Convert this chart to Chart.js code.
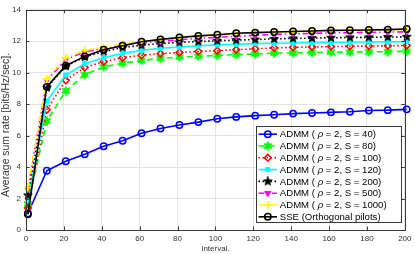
<!DOCTYPE html>
<html><head><meta charset="utf-8">
<script src="https://cdn.jsdelivr.net/npm/chart.js@4.4.1/dist/chart.umd.min.js"></script>
<style>html,body{margin:0;padding:0;background:#fff;overflow:hidden;}</style>
</head><body>
<canvas id="c" width="415" height="254" style="width:415px;height:254px;display:block"></canvas>
<script>
// ---------------- data ----------------
const interval = [1,11,21,31,41,51,61,71,81,91,101,111,121,131,141,151,161,171,181,191,201];
const xTicks = [0,20,40,60,80,100,120,140,160,180,200];
const yTicks = [0,2,4,6,8,10,12,14];
const admmS40   = [1.05,3.77,4.37,4.82,5.32,5.67,6.15,6.45,6.68,6.86,7.07,7.19,7.27,7.33,7.40,7.44,7.48,7.52,7.60,7.62,7.67];
const admmS80   = [1.65,6.93,8.84,9.87,10.37,10.60,10.78,10.90,11.00,11.04,11.10,11.15,11.19,11.24,11.26,11.28,11.30,11.31,11.33,11.34,11.36];
const admmS100  = [1.40,7.65,9.52,10.33,10.70,10.95,11.11,11.21,11.29,11.35,11.40,11.46,11.52,11.58,11.61,11.64,11.66,11.68,11.70,11.71,11.73];
const admmS120  = [1.87,8.20,9.85,10.57,10.95,11.23,11.42,11.56,11.63,11.71,11.77,11.81,11.85,11.87,11.89,11.91,11.93,11.94,11.95,11.96,11.97];
const admmS200  = [2.20,9.05,10.42,11.00,11.35,11.60,11.75,11.85,11.93,11.98,12.03,12.07,12.11,12.15,12.18,12.20,12.22,12.24,12.25,12.27,12.28];
const admmS500  = [2.60,9.52,10.84,11.32,11.55,11.77,11.90,12.00,12.10,12.18,12.25,12.32,12.38,12.44,12.47,12.50,12.53,12.55,12.57,12.58,12.60];
const admmS1000 = [2.70,9.60,10.95,11.42,11.62,11.82,11.97,12.10,12.22,12.32,12.40,12.49,12.54,12.58,12.61,12.64,12.68,12.69,12.71,12.73,12.76];
const sseOrth   = [1.00,9.10,10.45,11.04,11.46,11.72,11.97,12.12,12.24,12.34,12.41,12.51,12.55,12.59,12.62,12.65,12.69,12.70,12.72,12.74,12.78];
const seriesNames = ['S = 40','S = 80','S = 100','S = 120','S = 200','S = 500','S = 1000'];
const sseName = 'SSE (Orthogonal pilots)';
const xTitle = 'Interval.';
const yTitle = 'Average sum rate [bits/Hz/sec].';

// ---------------- marker images ----------------
function starImage(n, color, size, innerRatio) {
  const cv = document.createElement('canvas');
  cv.width = size; cv.height = size;
  const g = cv.getContext('2d');
  const c = size / 2, R = size / 2 - 0.5, r = R * innerRatio;
  g.beginPath();
  for (let i = 0; i < 2 * n; i++) {
    const a = -Math.PI / 2 + i * Math.PI / n;
    const rr = i % 2 ? r : R;
    g.lineTo(c + rr * Math.cos(a), c + rr * Math.sin(a));
  }
  g.closePath();
  g.fillStyle = color; g.fill();
  g.strokeStyle = color; g.lineWidth = 1; g.stroke();
  return cv;
}
const hexGreen = starImage(6, '#00ff00', 10, 0.5);
const pentBlack = starImage(5, '#000000', 10, 0.42);

const FONT = "'Liberation Sans', Arial, Helvetica, sans-serif";
const xy = arr => arr.map((v, i) => ({x: interval[i], y: v}));

const datasets = [
  {label: seriesNames[0], data: xy(admmS40), borderColor:'#0000ff', backgroundColor:'rgba(0,0,0,0)', borderWidth:1.6, borderDash:[], pointStyle:'circle', pointRadius:3.2, pointBorderWidth:1.5, pointBorderColor:'#0000ff', pointBackgroundColor:'rgba(0,0,0,0)'},
  {label: seriesNames[1], data: xy(admmS80), borderColor:'#00ff00', backgroundColor:'rgba(0,0,0,0)', borderWidth:1.6, borderDash:[6,4], pointStyle:hexGreen, pointRadius:5, pointBorderWidth:1, pointBorderColor:'#00ff00', pointBackgroundColor:'#00ff00'},
  {label: seriesNames[2], data: xy(admmS100), borderColor:'#ff0000', backgroundColor:'rgba(0,0,0,0)', borderWidth:1.6, borderDash:[1.5,2.5], pointStyle:'rectRot', pointRadius:3.4, pointBorderWidth:1.5, pointBorderColor:'#ff0000', pointBackgroundColor:'rgba(0,0,0,0)'},
  {label: seriesNames[3], data: xy(admmS120), borderColor:'#00ffff', backgroundColor:'rgba(0,0,0,0)', borderWidth:1.6, borderDash:[], pointStyle:'rect', pointRadius:3, pointBorderWidth:1, pointBorderColor:'#00ffff', pointBackgroundColor:'#00ffff'},
  {label: seriesNames[4], data: xy(admmS200), borderColor:'#000000', backgroundColor:'rgba(0,0,0,0)', borderWidth:1.6, borderDash:[1.5,2.5], pointStyle:pentBlack, pointRadius:5, pointBorderWidth:1, pointBorderColor:'#000000', pointBackgroundColor:'#000000'},
  {label: seriesNames[5], data: xy(admmS500), borderColor:'#ff00ff', backgroundColor:'rgba(0,0,0,0)', borderWidth:1.6, borderDash:[6,3,1.5,3], pointStyle:'triangle', rotation:180, pointRotation:180, pointRadius:3.6, pointBorderWidth:1, pointBorderColor:'#ff00ff', pointBackgroundColor:'#ff00ff'},
  {label: seriesNames[6], data: xy(admmS1000), borderColor:'#ffff00', backgroundColor:'rgba(0,0,0,0)', borderWidth:1.6, borderDash:[6,3,1.5,3], pointStyle:'cross', pointRadius:4, pointBorderWidth:1.8, pointBorderColor:'#ffff00', pointBackgroundColor:'#ffff00'},
  {label: sseName, data: xy(sseOrth), borderColor:'#000000', backgroundColor:'rgba(0,0,0,0)', borderWidth:1.6, borderDash:[], pointStyle:'circle', pointRadius:3.2, pointBorderWidth:1.5, pointBorderColor:'#000000', pointBackgroundColor:'rgba(0,0,0,0)'}
];
datasets.forEach((d, i) => { d.order = datasets.length - i; d.clip = false; d.tension = 0; d.fill = false; });

// ---------------- decorations plugin ----------------
const AXIS = '#3a3a3a';
const matlabPlugin = {
  id: 'matlab',
  afterDatasetsDraw(chart) {
    const {ctx, chartArea: a, scales} = chart;
    ctx.save();
    // box
    ctx.strokeStyle = AXIS; ctx.lineWidth = 1; ctx.setLineDash([]);
    ctx.strokeRect(Math.round(a.left) + 0.5, Math.round(a.top) + 0.5, Math.round(a.right - a.left), Math.round(a.bottom - a.top));
    // inner ticks
    ctx.beginPath();
    xTicks.forEach(v => {
      const x = Math.round(scales.x.getPixelForValue(v)) + 0.5;
      ctx.moveTo(x, a.bottom); ctx.lineTo(x, a.bottom - 3.5);
      ctx.moveTo(x, a.top); ctx.lineTo(x, a.top + 3.5);
    });
    yTicks.forEach(v => {
      const y = Math.round(scales.y.getPixelForValue(v)) + 0.5;
      ctx.moveTo(a.left, y); ctx.lineTo(a.left + 3.5, y);
      ctx.moveTo(a.right, y); ctx.lineTo(a.right - 3.5, y);
    });
    ctx.stroke();

    // y axis title
    ctx.save();
    ctx.translate(6, 125);
    ctx.rotate(-Math.PI / 2);
    ctx.font = "10.4px " + FONT;
    ctx.fillStyle = '#333333'; ctx.textAlign = 'center'; ctx.textBaseline = 'middle';
    ctx.fillText(yTitle, 0, 0);
    ctx.restore();

    // legend
    const L = 256.5, T = 126.5, R = 401.5, B = 222.5;
    ctx.fillStyle = '#ffffff';
    ctx.fillRect(L, T, R - L, B - T);
    ctx.strokeStyle = AXIS; ctx.lineWidth = 1;
    ctx.strokeRect(L, T, R - L, B - T);
    const fs = 9.6;
    const normal = fs + "px " + FONT, italic = "italic " + fs + "px " + FONT;
    chart.data.datasets.forEach((d, i) => {
      const y = 134.2 + i * 11.8;
      ctx.save();
      ctx.strokeStyle = d.borderColor; ctx.lineWidth = d.borderWidth;
      ctx.setLineDash(d.borderDash || []);
      ctx.beginPath(); ctx.moveTo(258.5, y); ctx.lineTo(277, y); ctx.stroke();
      ctx.setLineDash([]);
      ctx.strokeStyle = d.pointBorderColor; ctx.fillStyle = d.pointBackgroundColor;
      ctx.lineWidth = d.pointBorderWidth;
      Chart.helpers.drawPoint(ctx, {pointStyle: d.pointStyle, rotation: d.pointRotation || 0, radius: d.pointRadius, borderWidth: d.pointBorderWidth}, 267.8, y);
      ctx.restore();
      ctx.fillStyle = '#000000'; ctx.textBaseline = 'middle'; ctx.textAlign = 'left';
      let x = 279.8;
      const parts = i < seriesNames.length
        ? [['ADMM ( ', normal], ['\u03c1', italic], [' = 2, ' + d.label + ')', normal]]
        : [[d.label, normal]];
      parts.forEach(([t, f]) => { ctx.font = f; ctx.fillText(t, x, y + 0.5); x += ctx.measureText(t).width; });
    });
    ctx.restore();
  }
};

new Chart(document.getElementById('c'), {
  type: 'line',
  data: {datasets},
  options: {
    responsive: false, animation: false, devicePixelRatio: 1,
    layout: {padding: {top: 4, right: 10, left: 0, bottom: 0}},
    plugins: {legend: {display: false}, tooltip: {enabled: false}},
    elements: {line: {borderJoinStyle: 'round'}},
    scales: {
      x: {
        type: 'linear', min: 0, max: 200,
        afterBuildTicks: s => { s.ticks = xTicks.map(v => ({value: v})); },
        ticks: {font: {family: FONT, size: 8}, color: '#333333', padding: 3.5, maxRotation: 0, autoSkip: false},
        grid: {color: '#e4e4e4', lineWidth: 1, drawTicks: false},
        border: {display: false},
        title: {display: true, text: xTitle, font: {family: FONT, size: 8}, color: '#333333', padding: {top: 0, bottom: 0}},
        afterFit: s => { s.height = 24; }
      },
      y: {
        type: 'linear', min: 0, max: 14,
        afterBuildTicks: s => { s.ticks = yTicks.map(v => ({value: v})); },
        ticks: {font: {family: FONT, size: 8}, color: '#333333', padding: 5, autoSkip: false},
        grid: {color: '#e4e4e4', lineWidth: 1, drawTicks: false},
        border: {display: false},
        title: {display: false, text: yTitle},
        afterFit: s => { s.width = 26; }
      }
    }
  },
  plugins: [matlabPlugin]
});
</script>
</body></html>
